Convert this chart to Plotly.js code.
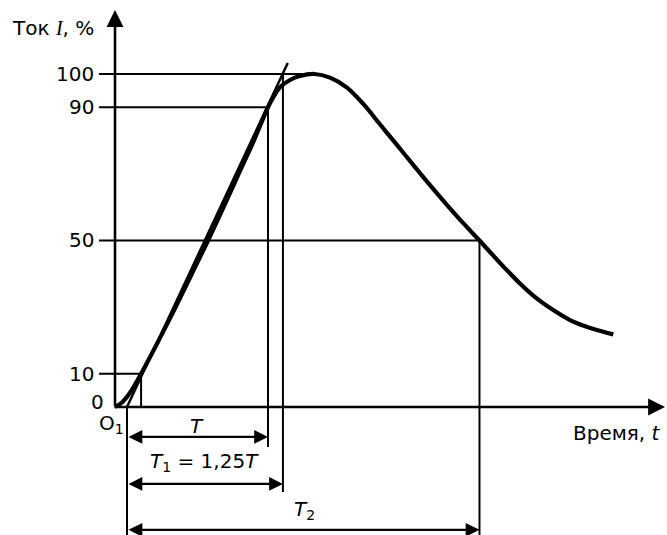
<!DOCTYPE html>
<html>
<head>
<meta charset="utf-8">
<script src="https://cdn.plot.ly/plotly-3.0.1.min.js"></script>
<style>html,body{margin:0;padding:0;background:#fff;}#chart{width:667px;height:535px;}</style>
</head>
<body>
<div id="chart"></div>
<script>
// Impulse current waveform (time in units where T = 10, current in %)
const curveTime = [-0.85, -0.4, 0.2, 1.0, 2.25, 3.45, 4.6, 5.75, 6.85, 7.92, 9.0, 10.0, 10.4, 10.85, 11.56, 12.27, 13.3, 14.4, 15.58, 16.76, 17.94, 19.13, 20.3, 21.49, 22.67, 23.85, 25.0, 26.69, 27.87, 29.06, 30.23, 31.42, 32.6, 33.78, 34.49];
const curveCurrent = [0, 1.2, 4.2, 10, 20, 30, 40, 50, 60, 70, 80, 90, 93.2, 96.0, 98.2, 99.4, 100, 98.9, 96.0, 91.0, 84.9, 78.8, 72.7, 66.6, 60.8, 55.2, 50, 42.2, 37.1, 32.6, 29.1, 26.1, 24.1, 22.6, 21.8];

// straight line through the 10 % and 90 % points
const tangentTime = [0, 11.4];
const tangentCurrent = [0, 103.3];

// reference levels and where their guide lines end
const levelValues = [10, 50, 90, 100];
const levelEndTime = [1.0, 25.0, 10.0, 13.3];
const tickVals = [0, 10, 50, 90, 100];
const tickText = ["0", "10", "50", "90", "100"];

// time marks
const tO1 = 0, tT = 10, tT1 = 11.06, tT2 = 25.0, t10 = 1.0;

// layout geometry (data units)
const xMin = -9.007, xMax = 38.3, yMin = -38.44, yMax = 122.22;
const yAxisT = -0.85, tickStartT = -1.99;
const rowT = -9.0, rowT1 = -23.1, rowT2 = -36.9;

const FONT = "DejaVu Sans";
const BLACK = "#000";

// guide lines
const gx = [], gy = [];
levelValues.forEach((v, i) => { gx.push(tickStartT, levelEndTime[i], null); gy.push(v, v, null); });
const verticals = [
  [t10, 10, 0],
  [tT, 90, -12.0],
  [tT1, 100, -25.5],
  [tO1, 0, yMin - 1],
  [tT2, 50, yMin - 1]
];
verticals.forEach(([t, a, b]) => { gx.push(t, t, null); gy.push(a, b, null); });

const traces = [
  {x: gx, y: gy, mode: "lines", line: {color: BLACK, width: 2}, hoverinfo: "skip"},
  {x: tangentTime, y: tangentCurrent, mode: "lines", line: {color: BLACK, width: 2.5}, hoverinfo: "skip"},
  {x: curveTime, y: curveCurrent, mode: "lines", line: {color: BLACK, width: 4.2, shape: "spline", smoothing: 1}, hoverinfo: "skip"}
];

function axisArrow(x, y, ax, ay) {
  return {x, y, ax, ay, xref: "x", yref: "y", axref: "x", ayref: "y", showarrow: true, text: "",
    arrowhead: 2, arrowsize: 1.3, arrowwidth: 2.6, arrowcolor: BLACK, standoff: 0};
}
function dimArrow(t0, t1, y) {
  return {x: t1, y: y, ax: t0, ay: y, xref: "x", yref: "y", axref: "x", ayref: "y", showarrow: true, text: "",
    arrowhead: 2, startarrowhead: 2, arrowside: "end+start", arrowsize: 1.2, startarrowsize: 1.2,
    arrowwidth: 2.3, arrowcolor: BLACK, standoff: 0, startstandoff: 0};
}
function label(x, y, text, opts) {
  return Object.assign({x, y, xref: "x", yref: "y", text, showarrow: false,
    font: {family: FONT, size: 20, color: BLACK}, xanchor: "center", yanchor: "middle"}, opts || {});
}

const annotations = [
  axisArrow(yAxisT, 119.2, yAxisT, 0),
  axisArrow(38.16, 0, yAxisT - 0.15, 0),
  dimArrow(tO1, tT, rowT),
  dimArrow(tO1, tT1, rowT1),
  dimArrow(tO1, tT2, rowT2),
  label(-8.3, 113.8, "Ток <span style=\"font-family:'Liberation Serif'\"><i>I</i></span>, %", {xanchor: "left"}),
  label(34.75, -7.8, "Время, <i>t</i>"),
  label(5.0, -5.6, "<i>T</i>"),
  label(5.5, -16.6, "<i>T</i><sub>1</sub> = 1,25<i>T</i>"),
  label(12.6, -31.0, "<i>T</i><sub>2</sub>"),
  label(-1.1, -5.0, "O<sub>1</sub>")
];
tickVals.forEach((v, i) => {
  annotations.push(label(v === 0 ? -1.5 : -2.2, v, tickText[i], {xanchor: "right", yshift: v === 0 ? 5 : 0}));
});

const layout = {
  width: 667, height: 535,
  margin: {l: 0, r: 0, t: 0, b: 0},
  paper_bgcolor: "#fff", plot_bgcolor: "#fff",
  showlegend: false,
  xaxis: {range: [xMin, xMax], visible: false, fixedrange: true},
  yaxis: {range: [yMin, yMax], visible: false, fixedrange: true},
  annotations: annotations
};

Plotly.newPlot("chart", traces, layout, {staticPlot: true, displayModeBar: false});
</script>
</body>
</html>
